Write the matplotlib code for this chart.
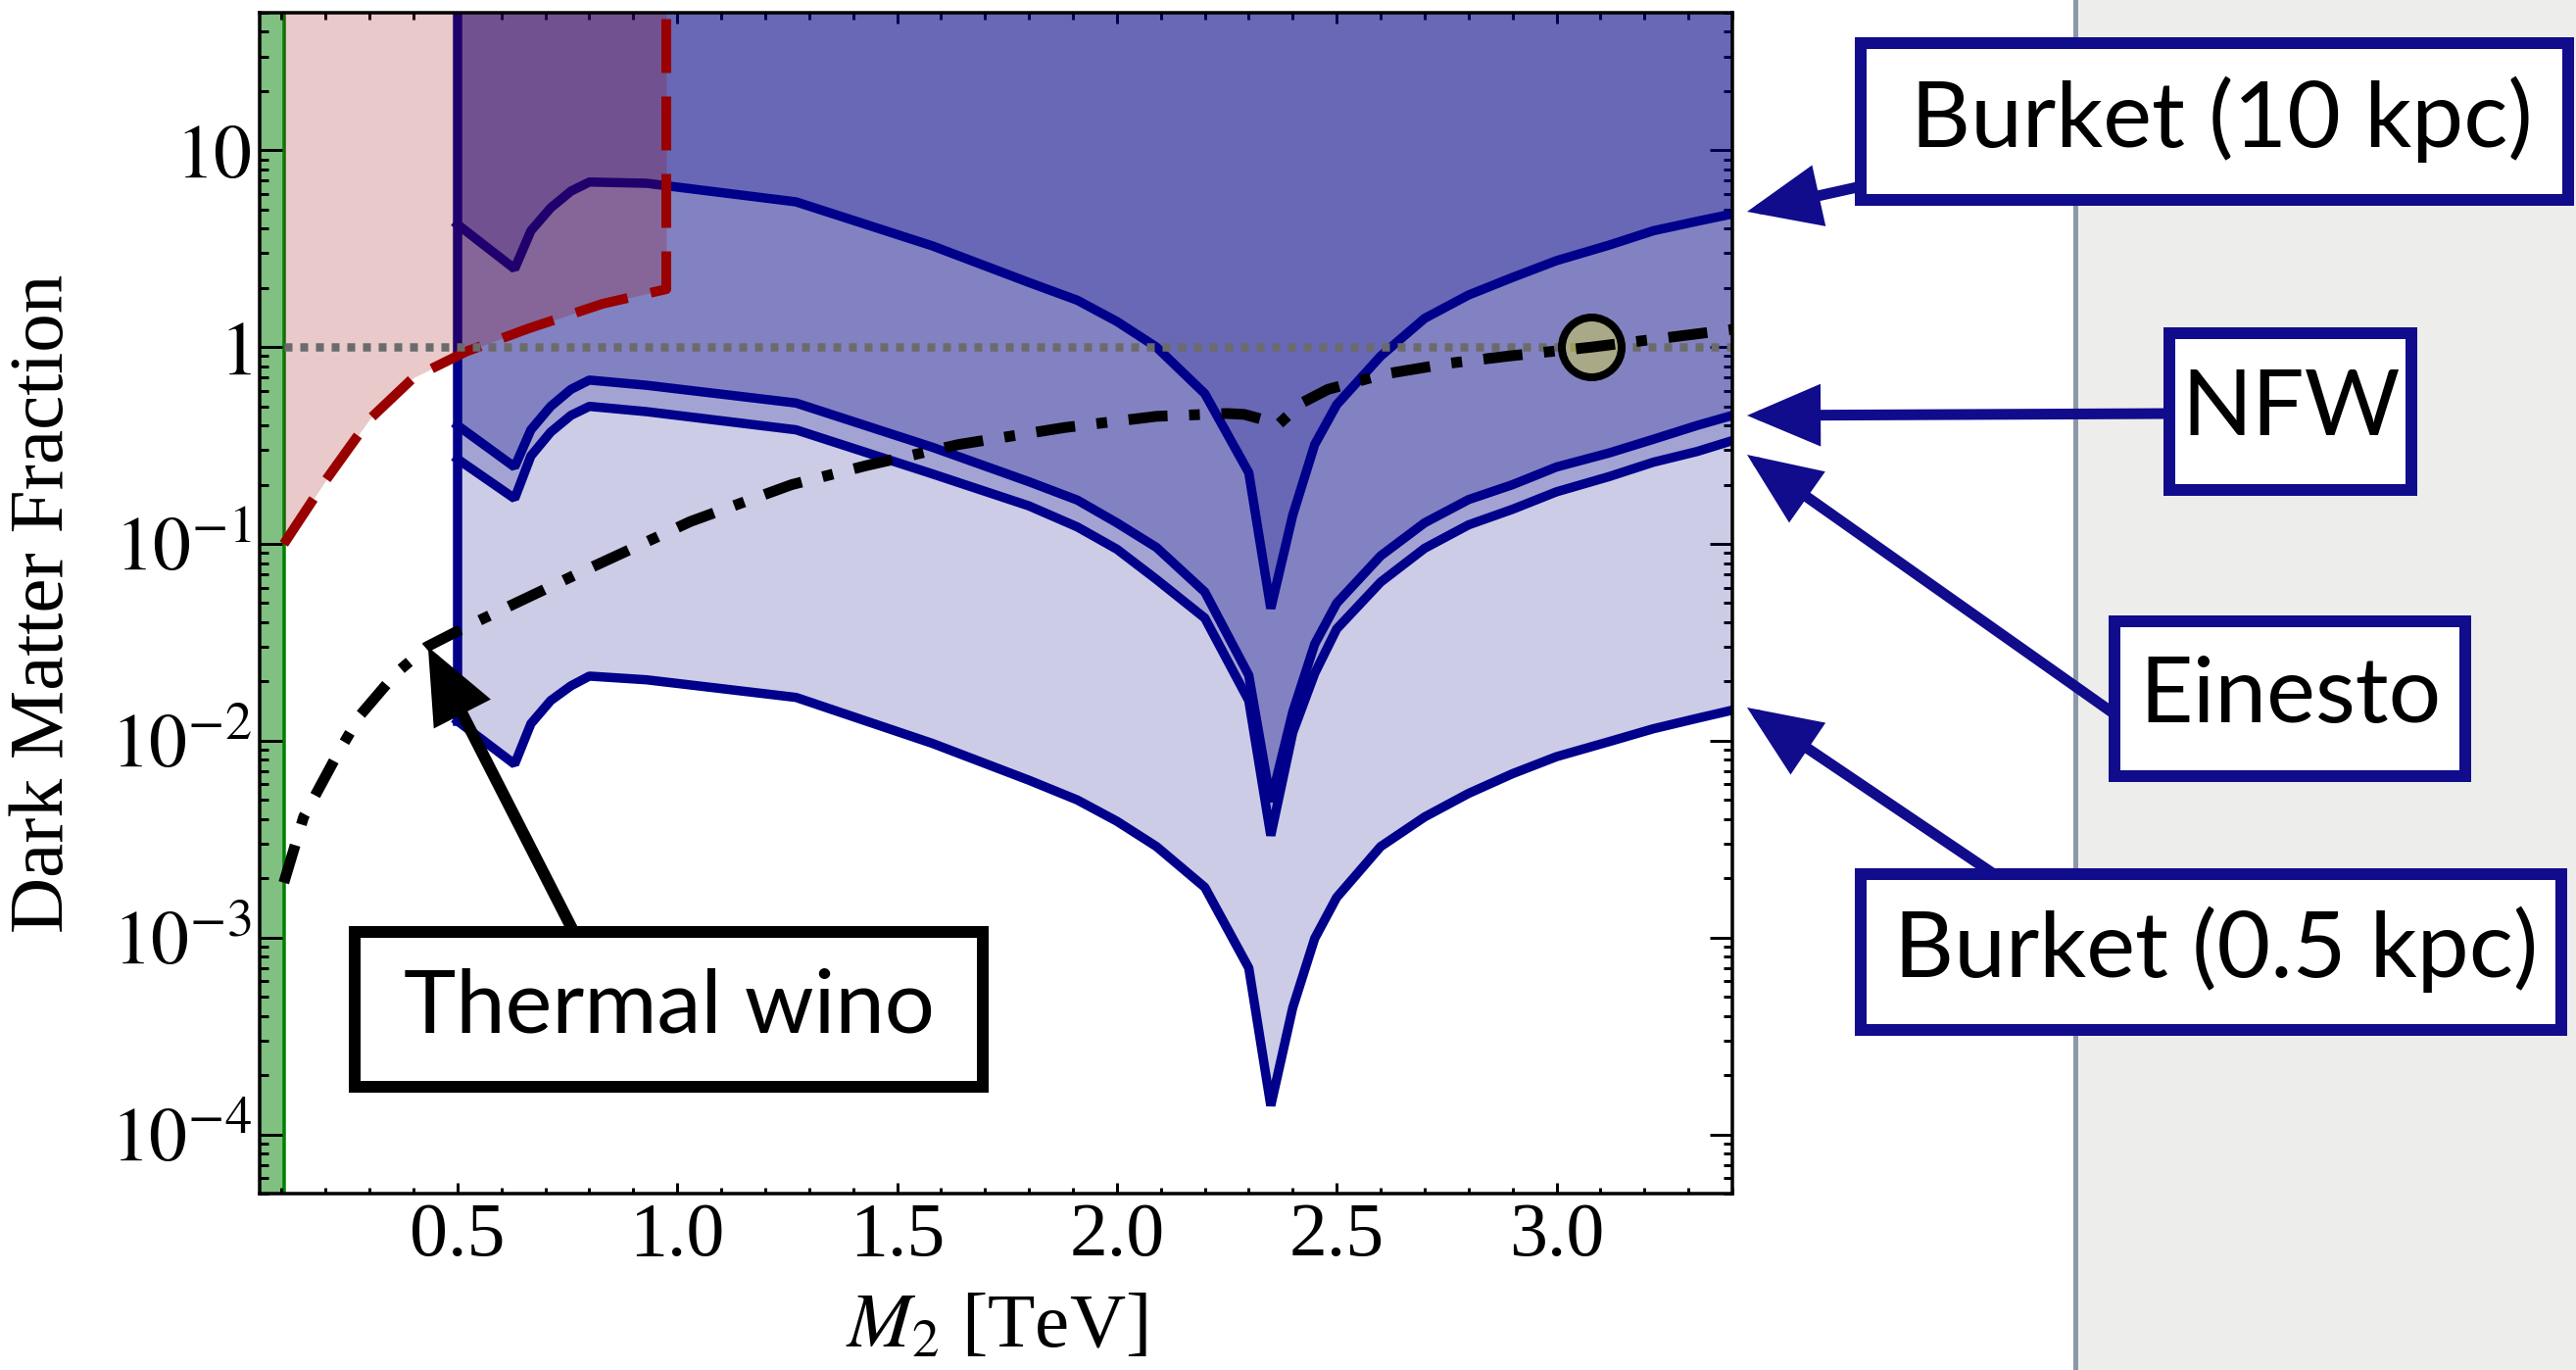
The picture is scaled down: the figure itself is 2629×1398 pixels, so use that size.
import numpy as np
import matplotlib
matplotlib.use("Agg")
import matplotlib.pyplot as plt
from matplotlib.patches import Rectangle, FancyArrowPatch
from matplotlib.lines import Line2D
from matplotlib.ticker import (FixedLocator, FixedFormatter, MultipleLocator,
                               LogLocator, NullFormatter)

# ---------------- data ----------------
mass = [0.5, 0.63, 0.667, 0.712, 0.758, 0.8, 0.93, 1.27, 1.58, 1.80, 1.91, 2.0,
        2.09, 2.2, 2.3, 2.35, 2.4, 2.45, 2.5, 2.6, 2.7, 2.8, 2.9, 3.0, 3.12,
        3.22, 3.32, 3.4]
burkert10 = [4.2, 2.5, 3.9, 5.1, 6.2, 6.9, 6.8, 5.47, 3.27, 2.13, 1.73, 1.35,
             1.0, 0.58, 0.23, 0.047, 0.14, 0.32, 0.51, 0.90, 1.40, 1.84, 2.26,
             2.75, 3.3, 3.9, 4.36, 4.75]
nfw = [0.40, 0.246, 0.38, 0.50, 0.61, 0.68, 0.64, 0.52, 0.31, 0.207, 0.167,
       0.128, 0.096, 0.057, 0.0215, 0.0049, 0.014, 0.031, 0.050, 0.087, 0.128,
       0.168, 0.20, 0.246, 0.29, 0.34, 0.40, 0.45]
einasto = [0.27, 0.17, 0.28, 0.37, 0.45, 0.50, 0.47, 0.38, 0.227, 0.156, 0.122,
           0.094, 0.066, 0.042, 0.016, 0.0033, 0.011, 0.022, 0.037, 0.064,
           0.095, 0.125, 0.150, 0.184, 0.22, 0.26, 0.295, 0.335]
burkert05 = [0.0126, 0.0076, 0.0122, 0.016, 0.019, 0.0213, 0.0204, 0.0166,
             0.0097, 0.0063, 0.0050, 0.0039, 0.0029, 0.0018, 0.0007, 0.00014,
             0.00044, 0.00099, 0.0016, 0.0029, 0.0041, 0.0054, 0.0068, 0.0083,
             0.0099, 0.0115, 0.0130, 0.0143]

wino_mass = [0.105, 0.15, 0.23, 0.28, 0.36, 0.43, 0.52, 0.58, 0.77, 0.96, 1.03,
             1.26, 1.43, 1.64, 1.88, 2.09, 2.25, 2.29, 2.33, 2.365, 2.42, 2.48,
             2.61, 2.76, 2.89, 3.08, 3.4]
wino_frac = [0.0019, 0.0041, 0.0088, 0.0136, 0.022, 0.030, 0.038, 0.044, 0.070,
             0.11, 0.13, 0.20, 0.25, 0.32, 0.39, 0.445, 0.46, 0.455, 0.43, 0.40,
             0.52, 0.61, 0.73, 0.83, 0.90, 1.0, 1.23]

red_mass = [0.105, 0.2, 0.3, 0.4, 0.52, 0.66, 0.83, 0.975, 0.975]
red_frac = [0.10, 0.21, 0.43, 0.70, 0.95, 1.24, 1.66, 1.97, 50.0]

lep_bound = 0.105
point_mass, point_frac = 3.08, 1.0
wino_arrow_tip = (0.433, 0.030)

xtick_values = [0.5, 1.0, 1.5, 2.0, 2.5, 3.0]
xtick_labels = ["0.5", "1.0", "1.5", "2.0", "2.5", "3.0"]
ytick_values = [1e-4, 1e-3, 1e-2, 1e-1, 1, 10]
ytick_labels = [r"$10^{-4}$", r"$10^{-3}$", r"$10^{-2}$", r"$10^{-1}$", r"$1$", r"$10$"]

profile_labels = ["Burket (10 kpc)", "NFW", "Einesto", "Burket (0.5 kpc)"]
wino_label = "Thermal wino"

# ---------------- style ----------------
W, H, DPI = 2629, 1398, 100
plt.rcParams["font.family"] = "serif"
plt.rcParams["font.serif"] = ["Liberation Serif", "DejaVu Serif"]
plt.rcParams["mathtext.fontset"] = "stix"
plt.rcParams["lines.scale_dashes"] = False

NAVY_LINE = "#00008B"
FILL = (0.0, 0.0, 0.53)
RED = "#990000"
BOXBLUE = "#100C8C"
SANS = ["Lato", "DejaVu Sans"]
PT = 72.0 / DPI  # px -> pt


def fx(px):
    return px / W


def fy(py):
    return 1 - py / H


fig = plt.figure(figsize=(W / DPI, H / DPI), dpi=DPI)
fig.patch.set_facecolor("white")

# right grey panel
fig.add_artist(Rectangle((fx(2118), 0), 1 - fx(2118), 1, transform=fig.transFigure,
                         facecolor="#EDEDEB", edgecolor="none", zorder=-5))
fig.add_artist(Line2D([fx(2118), fx(2118)], [0, 1], transform=fig.transFigure,
                      color="#8C98AA", lw=5 * PT, zorder=-4))

ax = fig.add_axes([fx(265), fy(1218), (1768 - 265) / W, (1218 - 13) / H])
ax.set_yscale("log")
ax.set_xlim(0.05, 3.4)
ax.set_ylim(5e-5, 50)
YTOP = 100.0

# green LEP band
ax.axvspan(0.05, lep_bound, color="#80C080", lw=0, zorder=1)
ax.axvline(lep_bound, color="#008000", lw=3.5 * PT, zorder=1.5)

# stacked blue regions
for curve in (burkert05, einasto, nfw, burkert10):
    ax.fill_between(mass, curve, YTOP, color=FILL, alpha=0.2, lw=0, zorder=2)
for curve in (burkert05, einasto, nfw, burkert10):
    ax.plot(mass, curve, color=NAVY_LINE, lw=9.5 * PT, zorder=3,
            solid_joinstyle="bevel")
ax.plot([mass[0], mass[0]], [burkert05[0], YTOP], color=NAVY_LINE, lw=9.5 * PT, zorder=3)

# pink excluded region
ax.fill_between(red_mass[:-1], red_frac[:-1], YTOP, color=RED, alpha=0.21, lw=0, zorder=4)
ax.plot(red_mass, red_frac, color=RED, lw=10 * PT, dashes=(55 * PT, 24 * PT), zorder=5)

# DM = 1 dotted line
ax.plot([lep_bound, 3.4], [1, 1], color="#6B6B6B", lw=8.5 * PT,
        dashes=(8 * PT, 8 * PT), zorder=5)

# observed point
ax.plot([point_mass], [point_frac], "o", ms=61 * PT, mfc=(0.82, 0.82, 0.30, 0.5),
        mec="black", mew=8 * PT, zorder=6)

# thermal wino line
ax.plot(wino_mass, wino_frac, color="black", lw=11 * PT,
        dashes=(40 * PT, 22 * PT, 11 * PT, 22 * PT), zorder=7)

# ticks / spines
for s in ax.spines.values():
    s.set_linewidth(3.5 * PT)
    s.set_zorder(10)
ax.xaxis.set_major_locator(FixedLocator(xtick_values))
ax.xaxis.set_major_formatter(FixedFormatter(xtick_labels))
ax.xaxis.set_minor_locator(MultipleLocator(0.1))
ax.yaxis.set_major_locator(FixedLocator(ytick_values))
ax.yaxis.set_major_formatter(FixedFormatter(ytick_labels))
ax.yaxis.set_minor_locator(LogLocator(base=10, subs=np.arange(2, 10), numticks=100))
ax.yaxis.set_minor_formatter(NullFormatter())
ax.tick_params(which="both", direction="in", top=True, right=True, width=3 * PT,
               labelsize=56)
ax.tick_params(axis="x", which="major", length=11 * PT, pad=6)
ax.tick_params(axis="x", which="minor", length=6.5 * PT)
ax.tick_params(axis="y", which="major", length=23 * PT, pad=6)
ax.tick_params(axis="y", which="minor", length=9 * PT)

ax.set_xlabel(r"$M_2$ [TeV]", fontsize=57)
ax.set_ylabel("Dark Matter Fraction", fontsize=57)
ax.xaxis.set_label_coords(0.5, -(1320 - 1218) / (1218 - 13))
ax.yaxis.set_label_coords(-(268 - 84) / (1768 - 265), 0.5)


# ---------------- annotations (figure pixels) ----------------
def box(x0, y0, x1, y1, color, bw=12):
    fig.add_artist(Rectangle((fx(x0 + bw / 2), fy(y1 - bw / 2)),
                             (x1 - x0 - bw) / W, (y1 - y0 - bw) / H,
                             transform=fig.transFigure, facecolor="white",
                             edgecolor=color, lw=bw * PT, zorder=20,
                             joinstyle="miter"))


STYLE = "-|>,head_length=40,head_width=17"


def arrow(p0, p1, color, lw):
    fig.add_artist(FancyArrowPatch((fx(p0[0]), fy(p0[1])), (fx(p1[0]), fy(p1[1])),
                                   transform=fig.transFigure, arrowstyle=STYLE,
                                   mutation_scale=1, shrinkA=0, shrinkB=0,
                                   color=color, lw=lw * PT, zorder=19,
                                   joinstyle="miter"))


def label(cx, cy, s, size):
    fig.text(fx(cx), fy(cy), s, ha="center", va="center", fontsize=size,
             family=SANS, color="black", zorder=21)


# Burket (10 kpc)
arrow((1900, 190), (1783, 216), BOXBLUE, 11)
box(1893, 38, 2627, 210, BOXBLUE)
label(2267, 122, profile_labels[0], 68)
# NFW
arrow((2215, 422), (1783, 424), BOXBLUE, 11)
box(2208, 334, 2467, 506, BOXBLUE)
label(2338, 418, profile_labels[1], 68)
# Einesto
arrow((2160, 730), (1783, 464), BOXBLUE, 11)
box(2152, 628, 2522, 798, BOXBLUE)
label(2337, 711, profile_labels[2], 68)
# Burket (0.5 kpc)
arrow((2035, 892), (1783, 722), BOXBLUE, 11)
box(1893, 886, 2620, 1057, BOXBLUE)
label(2262, 969, profile_labels[3], 68)

# Thermal wino (tip in data coordinates)
tip_px = ax.transData.transform(wino_arrow_tip)
tip_fig = fig.transFigure.inverted().transform(tip_px)
fig.add_artist(FancyArrowPatch((fx(585), fy(950)), tuple(tip_fig),
                               transform=fig.transFigure, arrowstyle=STYLE,
                               mutation_scale=1, shrinkA=0, shrinkB=0,
                               color="black", lw=12 * PT, zorder=19,
                               joinstyle="miter"))
box(356, 945, 1009, 1115, "black")
label(683, 1028, wino_label, 65)

fig.savefig("out.png", dpi=DPI)
